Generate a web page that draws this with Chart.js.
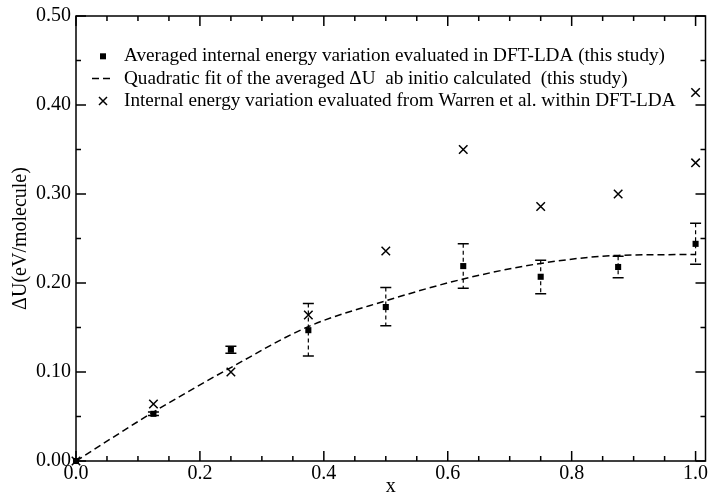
<!DOCTYPE html>
<html>
<head>
<meta charset="utf-8">
<script src="https://cdn.jsdelivr.net/npm/chart.js@4"></script>
<style>
  html, body { margin: 0; padding: 0; background: #fff; }
  #wrap { width: 713px; height: 494px; }
</style>
</head>
<body>
<div id="wrap"><canvas id="c" width="713" height="494"></canvas></div>
<script>
// Composition x and averaged internal energy variation (eV/molecule)
const compositions = [0, 0.125, 0.25, 0.375, 0.5, 0.625, 0.75, 0.875, 1.0];
const avgEnergy    = [0, 0.053, 0.125, 0.147, 0.173, 0.219, 0.207, 0.218, 0.244];
const avgErrHigh   = [0, 0.055, 0.129, 0.177, 0.195, 0.244, 0.2255, 0.230, 0.267];
const avgErrLow    = [0, 0.051, 0.121, 0.118, 0.152, 0.194, 0.188, 0.206, 0.221];

// Quadratic fit of the averaged values
const fitEnergy    = [0, 0.055, 0.105, 0.151, 0.180, 0.2045, 0.222, 0.231, 0.232];

// Values from Warren et al. (two entries at x = 1)
const warrenX      = [0, 0.125, 0.25, 0.375, 0.5, 0.625, 0.75, 0.875, 1.0, 1.0];
const warrenEnergy = [0, 0.064, 0.100, 0.164, 0.236, 0.350, 0.286, 0.300, 0.414, 0.335];

const xTicks = [0, 0.2, 0.4, 0.6, 0.8, 1.0];
const yTicks = [0, 0.1, 0.2, 0.3, 0.4, 0.5];
const xMinorTicks = [0.05, 0.1, 0.15, 0.25, 0.3, 0.35, 0.45, 0.5, 0.55, 0.65, 0.7, 0.75, 0.85, 0.9, 0.95];
const yMinorTicks = [0.05, 0.15, 0.25, 0.35, 0.45];

const legendLabels = [
  'Averaged internal energy variation evaluated in DFT-LDA (this study)',
  'Quadratic fit of the averaged \u0394U  ab initio calculated  (this study)',
  'Internal energy variation evaluated from Warren et al. within DFT-LDA'
];

const SERIF = '"Liberation Serif", "Times New Roman", serif';

const toXY = (xs, ys) => xs.map((x, i) => ({ x: x, y: ys[i] }));

// Dashed vertical error bars with solid caps
const errorBars = {
  id: 'errorBars',
  beforeDatasetsDraw(chart) {
    const { ctx, scales: { x, y } } = chart;
    ctx.save();
    ctx.strokeStyle = '#000';
    compositions.forEach((c, i) => {
      if (avgErrHigh[i] === avgErrLow[i]) return;
      const px = x.getPixelForValue(c);
      const yh = y.getPixelForValue(avgErrHigh[i]);
      const yl = y.getPixelForValue(avgErrLow[i]);
      ctx.lineWidth = 1.2;
      ctx.setLineDash([4, 3]);
      ctx.beginPath();
      ctx.moveTo(px, yh);
      ctx.lineTo(px, yl);
      ctx.stroke();
      ctx.setLineDash([]);
      ctx.lineWidth = 1.5;
      ctx.beginPath();
      ctx.moveTo(px - 5.5, yh); ctx.lineTo(px + 5.5, yh);
      ctx.moveTo(px - 5.5, yl); ctx.lineTo(px + 5.5, yl);
      ctx.stroke();
    });
    ctx.restore();
  }
};

// Box frame with inward major/minor ticks on all four sides
const frame = {
  id: 'frame',
  afterDraw(chart) {
    const { ctx, chartArea: a, scales: { x, y } } = chart;
    ctx.save();
    ctx.strokeStyle = '#000';
    ctx.lineWidth = 1.5;
    ctx.strokeRect(a.left, a.top, a.right - a.left, a.bottom - a.top);
    const tickX = (v, len) => {
      const px = x.getPixelForValue(v);
      ctx.moveTo(px, a.bottom); ctx.lineTo(px, a.bottom - len);
      ctx.moveTo(px, a.top); ctx.lineTo(px, a.top + len);
    };
    const tickY = (v, len) => {
      const py = y.getPixelForValue(v);
      ctx.moveTo(a.left, py); ctx.lineTo(a.left + len, py);
      ctx.moveTo(a.right, py); ctx.lineTo(a.right - len, py);
    };
    ctx.beginPath();
    xTicks.forEach(v => tickX(v, 10));
    xMinorTicks.forEach(v => tickX(v, 5));
    yTicks.forEach(v => tickY(v, 10));
    yMinorTicks.forEach(v => tickY(v, 5));
    ctx.stroke();
    ctx.restore();
  }
};

// Legend drawn inside the plot area
const insideLegend = {
  id: 'insideLegend',
  afterDraw(chart) {
    const { ctx } = chart;
    const ds = chart.data.datasets;
    ctx.save();
    ctx.fillStyle = '#000';
    ctx.strokeStyle = '#000';
    ctx.font = '19.2px ' + SERIF;
    ctx.textBaseline = 'alphabetic';
    ctx.textAlign = 'left';
    const textX = 124, symX = 103;
    const baselines = [61, 83.5, 106];

    // square marker
    ctx.fillRect(symX - 3, baselines[0] - 7.7, 6, 6);
    // dashed line
    ctx.lineWidth = ds[0].borderWidth;
    ctx.setLineDash(ds[0].borderDash);
    ctx.beginPath();
    ctx.moveTo(92, baselines[1] - 5); ctx.lineTo(113, baselines[1] - 5);
    ctx.stroke();
    ctx.setLineDash([]);
    // cross marker
    ctx.lineWidth = ds[2].borderWidth;
    ctx.beginPath();
    const cy = baselines[2] - 5, r = 4;
    ctx.moveTo(symX - r, cy - r); ctx.lineTo(symX + r, cy + r);
    ctx.moveTo(symX + r, cy - r); ctx.lineTo(symX - r, cy + r);
    ctx.stroke();

    legendLabels.forEach((t, i) => ctx.fillText(t, textX, baselines[i]));
    ctx.restore();
  }
};

new Chart(document.getElementById('c'), {
  type: 'scatter',
  data: {
    datasets: [
      {
        label: legendLabels[1],
        data: toXY(compositions, fitEnergy),
        showLine: true,
        borderColor: '#000',
        borderWidth: 1.5,
        borderDash: [7, 4],
        pointRadius: 0,
        fill: false,
        tension: 0.35,
        cubicInterpolationMode: 'monotone',
        clip: false
      },
      {
        label: legendLabels[0],
        data: toXY(compositions, avgEnergy),
        pointStyle: 'rect',
        pointRadius: 4.3,
        backgroundColor: '#000',
        borderColor: '#000',
        borderWidth: 0,
        clip: false
      },
      {
        label: legendLabels[2],
        data: toXY(warrenX, warrenEnergy),
        pointStyle: 'crossRot',
        pointRadius: 6,
        borderColor: '#000',
        borderWidth: 1.5,
        clip: false
      }
    ]
  },
  options: {
    responsive: false,
    animation: false,
    devicePixelRatio: 1,
    layout: { padding: { top: 16, right: 4, left: 0, bottom: 0 } },
    plugins: {
      legend: { display: false },
      tooltip: { enabled: false }
    },
    scales: {
      x: {
        type: 'linear',
        min: 0,
        max: 1.016,
        afterBuildTicks: s => { s.ticks = xTicks.map(v => ({ value: v })); },
        afterFit: s => { s.height = 33; s.paddingLeft = 0; s.paddingRight = 0; },
        grid: { display: false, drawTicks: false },
        border: { display: false },
        ticks: {
          padding: 1,
          color: '#000',
          font: { family: SERIF, size: 20 },
          maxRotation: 0,
          autoSkip: false,
          callback: v => v.toFixed(1)
        },
        title: {
          display: true,
          text: 'x',
          color: '#000',
          font: { family: SERIF, size: 20, lineHeight: 0.7 },
          padding: 0
        }
      },
      y: {
        type: 'linear',
        min: 0,
        max: 0.5,
        afterBuildTicks: s => { s.ticks = yTicks.map(v => ({ value: v })); },
        afterFit: s => { s.width = 76; s.paddingTop = 0; s.paddingBottom = 0; },
        grid: { display: false, drawTicks: false },
        border: { display: false },
        ticks: {
          padding: 5,
          color: '#000',
          font: { family: SERIF, size: 20 },
          autoSkip: false,
          callback: v => v.toFixed(2)
        },
        title: {
          display: true,
          text: '\u0394U(eV/molecule)',
          color: '#000',
          font: { family: SERIF, size: 20, lineHeight: 1 },
          padding: 11
        }
      }
    }
  },
  plugins: [errorBars, frame, insideLegend]
});
</script>
</body>
</html>
